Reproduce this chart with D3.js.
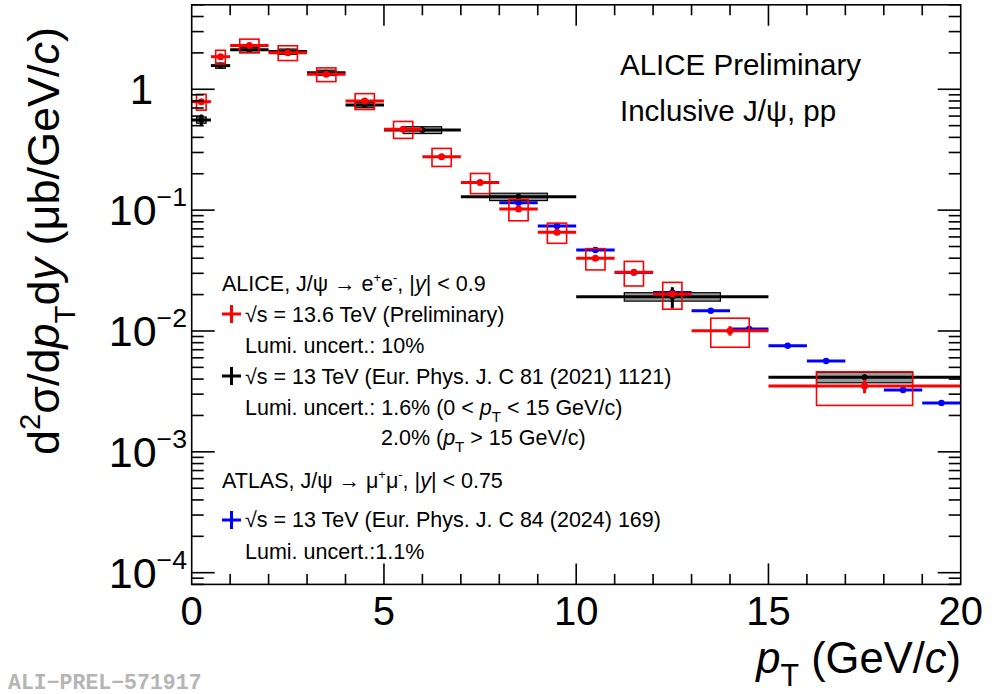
<!DOCTYPE html>
<html><head><meta charset="utf-8">
<script src="https://cdn.jsdelivr.net/npm/d3@7"></script>
<style>
html,body{margin:0;padding:0;background:#fff;}
svg{display:block;font-family:"Liberation Sans",Arial,Helvetica,sans-serif;}
text{white-space:pre;}
</style></head>
<body><svg id="c" width="996" height="694"></svg>
<script>
// ---------------- data ----------------
// ALICE 13.6 TeV (preliminary)
const redLo   = [0, 0.5, 1, 2, 3, 4, 5, 6, 7, 8, 9, 10, 11, 12, 13, 15];
const redHi   = [0.5, 1, 2, 3, 4, 5, 6, 7, 8, 9, 10, 11, 12, 13, 15, 20];
const redVal  = [0.79, 1.86, 2.30, 2.01, 1.33, 0.80, 0.467, 0.277, 0.169, 0.102, 0.0656, 0.040, 0.0306, 0.0202, 0.01005, 0.00351];
const redStat = [0.02, 0.015, 0.01, 0.01, 0.01, 0.015, 0.015, 0.02, 0.02, 0.03, 0.03, 0.04, 0.04, 0.05, 0.09, 0.13];
const redSys  = [0.15, 0.13, 0.13, 0.14, 0.13, 0.15, 0.16, 0.17, 0.19, 0.20, 0.19, 0.20, 0.23, 0.25, 0.27, 0.31];
// ALICE 13 TeV (EPJC 81 (2021) 1121)
const blkLo   = [0, 0.5, 1, 2, 3, 4, 5, 7, 10, 15];
const blkHi   = [0.5, 1, 2, 3, 4, 5, 7, 10, 15, 20];
const blkVal  = [0.557, 1.57, 2.12, 2.05, 1.37, 0.74, 0.46, 0.129, 0.0192, 0.00414];
const blkStat = [0.11, 0.04, 0.02, 0.02, 0.02, 0.02, 0.02, 0.03, 0.2, 0.05];
const blkSys  = [0.06, 0.05, 0.05, 0.05, 0.05, 0.05, 0.065, 0.07, 0.08, 0.1];
// ATLAS 13 TeV (EPJC 84 (2024) 169)
const bluLo   = [8, 9, 10, 11, 12, 13, 14, 15, 16, 17, 18, 19];
const bluHi   = [9, 10, 11, 12, 13, 14, 15, 16, 17, 18, 19, 20];
const bluVal  = [0.115, 0.0739, 0.0468, 0.0305, 0.0208, 0.0147, 0.0104, 0.00755, 0.00565, 0.00432, 0.00325, 0.00254];
const bluStat = [0.02, 0.02, 0.02, 0.02, 0.02, 0.02, 0.02, 0.02, 0.02, 0.03, 0.03, 0.03];
// axes
const xTicks = [0, 5, 10, 15, 20];
const yDecades = [1e-4, 1e-3, 1e-2, 1e-1, 1];
const yExp = ["−4", "−3", "−2", "−1", ""];

// ---------------- layout ----------------
const L = 191.7, R = 960.7, T = 4.8, B = 584.4;
const svg = d3.select("#c");
const x = d3.scaleLinear().domain([0, 20]).range([L, R]);
const y = d3.scaleLog().domain([8e-5, 5]).range([B, T]);

const plot = svg.append("g");

function rows(lo, hi, val, stat, sys) {
  return val.map((v, i) => ({lo: lo[i], hi: hi[i], c: (lo[i] + hi[i]) / 2, v, st: stat[i], sy: sys ? sys[i] : 0}));
}
const red = rows(redLo, redHi, redVal, redStat, redSys);
const blk = rows(blkLo, blkHi, blkVal, blkStat, blkSys);
const blu = rows(bluLo, bluHi, bluVal, bluStat, null);

function drawSeries(data, color, opts) {
  const g = plot.append("g");
  if (opts.box) {
    g.selectAll("rect").data(data).join("rect")
      .attr("x", d => x(d.c - (d.hi - d.lo) / 4))
      .attr("width", d => x(d.c + (d.hi - d.lo) / 4) - x(d.c - (d.hi - d.lo) / 4))
      .attr("y", d => y(d.v * (1 + d.sy)))
      .attr("height", d => y(d.v * (1 - d.sy)) - y(d.v * (1 + d.sy)))
      .attr("fill", opts.boxFill).attr("stroke", opts.boxStroke).attr("stroke-width", opts.boxW);
  }
  g.selectAll("line.h").data(data).join("line").attr("class", "h")
    .attr("x1", d => x(d.lo)).attr("x2", d => x(d.hi))
    .attr("y1", d => y(d.v)).attr("y2", d => y(d.v))
    .attr("stroke", color).attr("stroke-width", 3);
  g.selectAll("line.v").data(data).join("line").attr("class", "v")
    .attr("x1", d => x(d.c)).attr("x2", d => x(d.c))
    .attr("y1", d => y(d.v * (1 + d.st))).attr("y2", d => y(d.v * (1 - d.st)))
    .attr("stroke", color).attr("stroke-width", 3);
  g.selectAll("circle").data(data).join("circle")
    .attr("cx", d => x(d.c)).attr("cy", d => y(d.v)).attr("r", opts.r).attr("fill", color);
}
drawSeries(blu, "#0000ff", {box: false, r: 3.2});
drawSeries(blk, "#000000", {box: true, boxFill: "#9a9a9a", boxStroke: "#000", boxW: 1.2, r: 3});
drawSeries(red, "#ff0000", {box: true, boxFill: "none", boxStroke: "#ff0000", boxW: 1.6, r: 3.5});

// ---------------- frame & ticks ----------------
const ax = svg.append("g").attr("stroke", "#000").attr("stroke-width", 1.6);
ax.append("rect").attr("x", L).attr("y", T).attr("width", R - L).attr("height", B - T).attr("fill", "none");
const xMinor = d3.range(1, 20);
xMinor.forEach(v => {
  const big = v % 5 === 0, len = big ? 21 : 10.5;
  ax.append("line").attr("x1", x(v)).attr("x2", x(v)).attr("y1", B).attr("y2", B - len);
  ax.append("line").attr("x1", x(v)).attr("x2", x(v)).attr("y1", T).attr("y2", T + len);
});
const yAll = [];
[-5, -4, -3, -2, -1, 0].forEach(e => { for (let k = 1; k <= 9; k++) yAll.push({v: k * Math.pow(10, e), big: k === 1}); });
yAll.filter(d => d.v >= 8e-5 && d.v <= 5).forEach(d => {
  const len = d.big ? 23 : 12;
  ax.append("line").attr("y1", y(d.v)).attr("y2", y(d.v)).attr("x1", L).attr("x2", L + len);
  ax.append("line").attr("y1", y(d.v)).attr("y2", y(d.v)).attr("x1", R).attr("x2", R - len);
});

// ---------------- rich text helper ----------------
function rich(parent, px, py, fs, parts, anchor) {
  const t = parent.append("text").attr("x", px).attr("y", py).attr("font-size", fs)
    .attr("text-anchor", anchor || "start").attr("fill", "#000");
  let cur = 0;
  parts.forEach(p => {
    if (typeof p === "string") p = {t: p};
    const ts = t.append("tspan").text(p.t);
    let target = 0, size = fs;
    if (p.s === "sup") { target = -(p.up ?? 0.42) * fs; size = fs * (p.k ?? 0.7); }
    if (p.s === "sub") { target = (p.dn ?? 0.32) * fs; size = fs * (p.k ?? 0.7); }
    ts.attr("dy", target - cur).attr("font-size", size);
    if (p.i) ts.attr("font-style", "italic");
    cur = target;
  });
  return t;
}

// tick labels
const tl = svg.append("g");
xTicks.forEach(v => {
  tl.append("text").attr("x", x(v)).attr("y", 625).attr("font-size", 40)
    .attr("text-anchor", "middle").text(v);
});
yDecades.forEach((v, i) => {
  if (yExp[i] === "") {
    tl.append("text").attr("x", 153).attr("y", y(v) + 15).attr("font-size", 42)
      .attr("text-anchor", "end").text("1");
  } else {
    rich(tl, 187, y(v) + 15, 43, ["10", {t: yExp[i], s: "sup", k: 0.62, up: 0.44}], "end");
  }
});

// axis titles
rich(svg, 961, 673, 43.5, [{t: "p", i: true}, {t: "T", s: "sub", dn: 0.3}, {t: " (GeV/"}, {t: "c", i: true}, {t: ")"}], "end");
const yt = svg.append("g").attr("transform", "translate(59,241) rotate(-90)");
rich(yt, 0, 0, 45, ["d", {t: "2", s: "sup", up: 0.42, k: 0.65}, "σ/d", {t: "p", i: true}, {t: "T", s: "sub", dn: 0.35, k: 0.65}, "d", {t: "y", i: true}, " (μb/GeV/", {t: "c", i: true}, ")"], "middle");

// header
svg.append("text").attr("x", 620).attr("y", 75).attr("font-size", 29.5).text("ALICE Preliminary");
rich(svg, 620, 121, 29.5, ["Inclusive J/ψ, pp"]);

// legend
const lg = svg.append("g");
const fs = 21.5;
rich(lg, 222, 291, fs, ["ALICE, J/ψ → e", {t: "+", s: "sup", k: 0.6}, "e", {t: "-", s: "sup", k: 0.6}, ", |", {t: "y", i: true}, "| < 0.9"]);
rich(lg, 245, 322, fs, ["√s = 13.6 TeV (Preliminary)"]);
rich(lg, 245, 353, fs, ["Lumi. uncert.: 10%"]);
rich(lg, 245, 384, fs, ["√s = 13 TeV (Eur. Phys. J. C 81 (2021) 1121)"]);
rich(lg, 245, 415, fs, ["Lumi. uncert.: 1.6% (0 < ", {t: "p", i: true}, {t: "T", s: "sub"}, " < 15 GeV/c)"]);
rich(lg, 381, 445, fs, ["2.0% (", {t: "p", i: true}, {t: "T", s: "sub"}, " > 15 GeV/c)"]);
rich(lg, 222, 488, fs, ["ATLAS, J/ψ → μ", {t: "+", s: "sup", k: 0.6}, "μ", {t: "-", s: "sup", k: 0.6}, ", |", {t: "y", i: true}, "| < 0.75"]);
rich(lg, 245, 527, fs, ["√s = 13 TeV (Eur. Phys. J. C 84 (2024) 169)"]);
rich(lg, 245, 559, fs, ["Lumi. uncert.:1.1%"]);
[["#ff0000", 314], ["#000000", 376], ["#0000ff", 520]].forEach(([c, cy]) => {
  lg.append("line").attr("x1", 222).attr("x2", 241).attr("y1", cy).attr("y2", cy).attr("stroke", c).attr("stroke-width", 3);
  lg.append("line").attr("x1", 231.5).attr("x2", 231.5).attr("y1", cy - 9).attr("y2", cy + 9).attr("stroke", c).attr("stroke-width", 3);
});

// watermark
svg.append("text").attr("x", 8).attr("y", 689).attr("font-size", 21.5).attr("font-weight", "bold")
  .attr("font-family", "'Liberation Mono','Courier New',monospace").attr("fill", "#b5b5b5")
  .text("ALI−PREL−571917");
</script></body></html>
